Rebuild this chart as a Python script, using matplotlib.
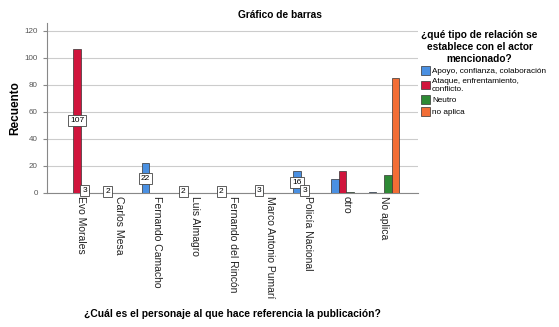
import matplotlib.pyplot as plt
import numpy as np

categories = ["Evo Morales", "Carlos Mesa", "Fernando Camacho", "Luis Almagro",
              "Fernando del Rincón", "Marco Antonio Pumarí", "Policía Nacional",
              "otro", "No aplica"]
series = ["Apoyo, confianza, colaboración", "Ataque, enfrentamiento,\nconflicto.",
          "Neutro", "no aplica"]
apoyo = [0, 2, 22, 2, 2, 3, 16, 10, 1]
ataque = [107, 0, 0, 0, 0, 0, 3, 16, 0]
neutro = [3, 0, 0, 0, 0, 0, 0, 1, 13]
no_aplica = [0, 0, 0, 0, 0, 0, 0, 0, 85]
# SPSS only put value labels on the first seven categories
labeled_cats = 7

colors = ["#4a90e2", "#d0143c", "#2e8a35", "#f26d35"]
values = [apoyo, ataque, neutro, no_aplica]

plt.rcParams["font.family"] = ["Liberation Sans", "DejaVu Sans"]

fig = plt.figure(figsize=(5.59, 3.27), dpi=100)
ax = fig.add_axes([0.084, 0.41, 0.664, 0.52])

x = np.arange(len(categories))
w = 0.2
for i, (vals, col, name) in enumerate(zip(values, colors, series)):
    pos = x + (i - 1.5) * w
    ax.bar(pos, vals, width=w, color=col, edgecolor="#333333", linewidth=0.5,
           label=name, zorder=3)
    for j, v in enumerate(vals):
        if v > 0 and j < labeled_cats:
            ax.text(pos[j], v / 2, str(v), ha="center", va="center", fontsize=6,
                    zorder=4,
                    bbox=dict(boxstyle="square,pad=0.25", fc="white", ec="#444444", lw=0.6))

ax.set_xlim(-0.9, 8.9)
ax.set_ylim(0, 126)
ax.set_yticks(range(0, 121, 20))
ax.yaxis.grid(True, color="#cccccc", linewidth=0.8, zorder=0)
ax.set_axisbelow(True)
for s in ["top", "right"]:
    ax.spines[s].set_visible(False)
ax.spines["left"].set_color("#888888")
ax.spines["bottom"].set_color("#888888")
ax.tick_params(axis="y", labelsize=5.8, labelcolor="#555555", color="#888888", length=3)
ax.tick_params(axis="x", length=0, pad=2)
ax.set_xticks(x)
ax.set_xticklabels(categories, rotation=270, fontsize=7.5, color="#222222", va="top")

ax.set_ylabel("Recuento", fontsize=8.5, fontweight="bold")
ax.yaxis.set_label_coords(-0.068, 0.5)
ax.set_xlabel("¿Cuál es el personaje al que hace referencia la publicación?",
              fontsize=7.4, fontweight="bold")
ax.xaxis.set_label_coords(0.5, -0.68)
fig.text(0.5, 0.955, "Gráfico de barras", fontsize=7.3, fontweight="bold",
         ha="center", va="center")

leg = ax.legend(loc="upper left", bbox_to_anchor=(1.0, 0.975), frameon=False,
                fontsize=5.9, handlelength=1.0, handleheight=1.3, handletextpad=0.3,
                labelspacing=0.3, borderaxespad=0,
                title="¿qué tipo de relación se\nestablece con el actor\nmencionado?",
                title_fontproperties={"size": 7.3, "weight": "bold"})
leg._legend_box.align = "left"
leg.get_title().set_multialignment("center")

fig.savefig("out.png", dpi=100)
